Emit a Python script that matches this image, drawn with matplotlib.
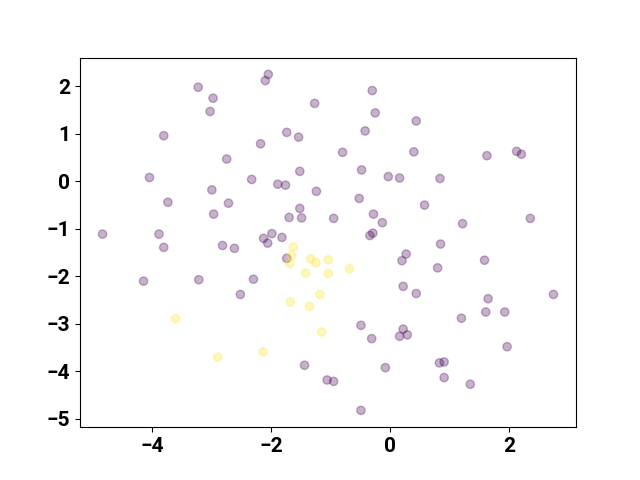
import matplotlib.pyplot as plt
import numpy as np

# purple group (class 0)
purple_x = [-2.05, -2.10, -3.23, -2.98, -3.03, -1.27, -3.81, -1.74, -1.54, -2.18,
            -2.75, -4.05, -2.33, -1.89, -1.76, -1.52, -3.00, -1.24, -3.74, -2.72,
            -2.97, -1.52, -1.70, -1.49, -0.95, -4.84, -3.89, -1.99, -2.13, -2.06,
            -1.82, -3.81, -2.82, -2.62,
            -1.74, -4.15, -3.22, -2.30, -2.52, -1.44, -1.06, -0.95, -0.49,
            0.85, 0.27, 0.20, 0.80, 1.59, 0.22, 0.44, 1.65, 2.75, 1.20,
            1.61, 1.93, -0.49, -0.31, 0.22, 0.16, 0.29, 1.97, -0.08, 0.83,
            0.91, 0.91, 1.35,
            -0.30, -0.25, 0.44, -0.42, -0.80, 0.40, 1.63, 2.13, 2.21, -0.48,
            -0.03, 0.16, 0.84, -0.52, 0.58, -0.28, -0.13, -0.29, -0.34, 1.22,
            2.36]
purple_y = [2.25, 2.12, 1.98, 1.75, 1.47, 1.64, 0.96, 1.03, 0.93, 0.79,
            0.47, 0.08, 0.04, -0.06, -0.08, 0.21, -0.18, -0.21, -0.44, -0.46,
            -0.69, -0.57, -0.76, -0.77, -0.78, -1.11, -1.11, -1.10, -1.20, -1.30,
            -1.18, -1.39, -1.35, -1.41,
            -1.62, -2.10, -2.07, -2.06, -2.38, -3.87, -4.18, -4.21, -4.82,
            -1.32, -1.53, -1.67, -1.82, -1.66, -2.21, -2.36, -2.47, -2.38, -2.88,
            -2.75, -2.75, -3.03, -3.31, -3.11, -3.26, -3.23, -3.48, -3.92, -3.82,
            -3.80, -4.13, -4.27,
            1.91, 1.44, 1.27, 1.06, 0.61, 0.62, 0.54, 0.63, 0.57, 0.24,
            0.10, 0.07, 0.06, -0.36, -0.50, -0.69, -0.87, -1.09, -1.14, -0.89,
            -0.78]

# yellow group (class 1)
yellow_x = [-1.63, -1.66, -1.69, -1.34, -1.25, -1.04, -1.42, -1.04, -0.68, -1.68,
            -1.36, -1.18, -3.61, -1.15, -2.14, -2.90]
yellow_y = [-1.38, -1.57, -1.73, -1.63, -1.71, -1.65, -1.93, -1.94, -1.84, -2.54,
            -2.63, -2.38, -2.89, -3.17, -3.59, -3.70]

x = np.array(purple_x + yellow_x)
y = np.array(purple_y + yellow_y)
labels = np.array([0] * len(purple_x) + [1] * len(yellow_x))

plt.rcParams['font.family'] = ['Roboto', 'DejaVu Sans']
plt.rcParams['font.weight'] = 'bold'

fig, ax = plt.subplots(figsize=(6.4, 4.8), dpi=100)
ax.scatter(x, y, c=labels, cmap='viridis', alpha=0.3)
ax.tick_params(labelsize=15)
for lbl in ax.get_xticklabels() + ax.get_yticklabels():
    lbl.set_fontweight('bold')

plt.savefig("out.png")
plt.close()
